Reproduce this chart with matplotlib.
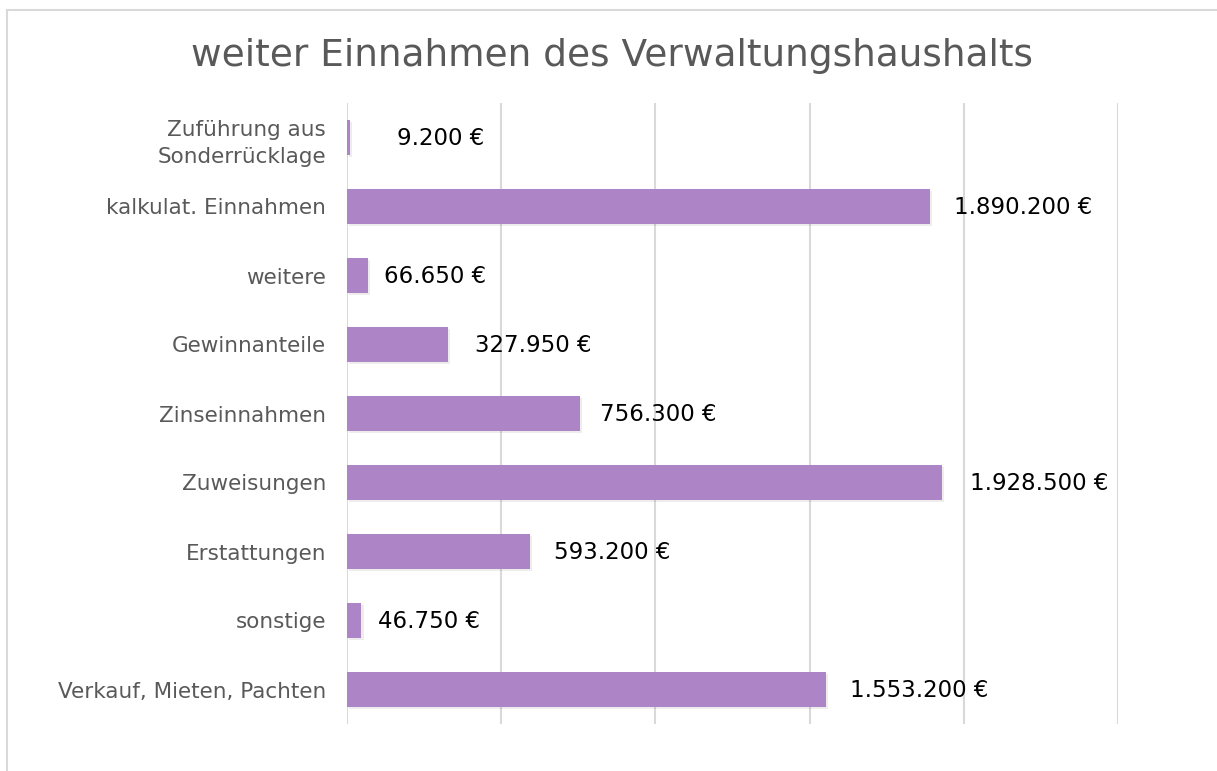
import matplotlib.pyplot as plt
import matplotlib.patheffects as pe
from matplotlib.lines import Line2D

categories = [
    "Zuführung aus\nSonderrücklage",
    "kalkulat. Einnahmen",
    "weitere",
    "Gewinnanteile",
    "Zinseinnahmen",
    "Zuweisungen",
    "Erstattungen",
    "sonstige",
    "Verkauf, Mieten, Pachten",
]
values = [9200, 1890200, 66650, 327950, 756300, 1928500, 593200, 46750, 1553200]
value_labels = ["9.200 €", "1.890.200 €", "66.650 €", "327.950 €", "756.300 €",
                "1.928.500 €", "593.200 €", "46.750 €", "1.553.200 €"]

# label offsets in points (Excel labels were nudged by hand)
label_offsets = [34, 17, 12, 19, 14, 20, 17, 12, 17]

BAR_COLOR = "#ad84c6"
GRID_COLOR = "#d9d9d9"
TEXT_COLOR = "#595959"

fig = plt.figure(figsize=(12.17, 7.71), dpi=100)
ax = fig.add_axes([347 / 1217, 1 - 724 / 771, (1118 - 347) / 1217, (724 - 103) / 771])

ypos = list(range(len(categories)))
bars = ax.barh(ypos, values, height=0.5, color=BAR_COLOR, zorder=3)
for b in bars:
    b.set_path_effects([pe.SimplePatchShadow(offset=(1.5, -1.5), shadow_rgbFace="#000000", alpha=0.07),
                        pe.Normal()])

for y, v, lab, off in zip(ypos, values, value_labels, label_offsets):
    ax.annotate(lab, (v, y), xytext=(off, -1), textcoords="offset points",
                va="center", ha="left", fontsize=16.5, color="black", zorder=4)

ax.set_xlim(0, 2500000)
ax.set_ylim(len(categories) - 0.5, -0.5)
ax.set_xticks([0, 500000, 1000000, 1500000, 2000000, 2500000])
ax.set_xticklabels([])
ax.tick_params(axis="x", length=0)
ax.tick_params(axis="y", length=0, pad=15, labelsize=15.5, labelcolor=TEXT_COLOR)
ax.set_yticks(ypos)
ax.set_yticklabels(categories, linespacing=1.45)
ax.grid(True, axis="x", color=GRID_COLOR, linewidth=1.5, zorder=0)
ax.set_axisbelow(True)
for s in ax.spines.values():
    s.set_visible(False)

fig.text(0.503, 1 - 56 / 771, "weiter Einnahmen des Verwaltungshaushalts",
         ha="center", va="center", fontsize=27, color=TEXT_COLOR)

# chart frame
fig.add_artist(Line2D([7 / 1217, 7 / 1217], [0, 1 - 10 / 771], transform=fig.transFigure,
                      color=GRID_COLOR, linewidth=1.5))
fig.add_artist(Line2D([7 / 1217, 1], [1 - 10 / 771, 1 - 10 / 771], transform=fig.transFigure,
                      color=GRID_COLOR, linewidth=1.5))

fig.savefig("out.png", dpi=100)
